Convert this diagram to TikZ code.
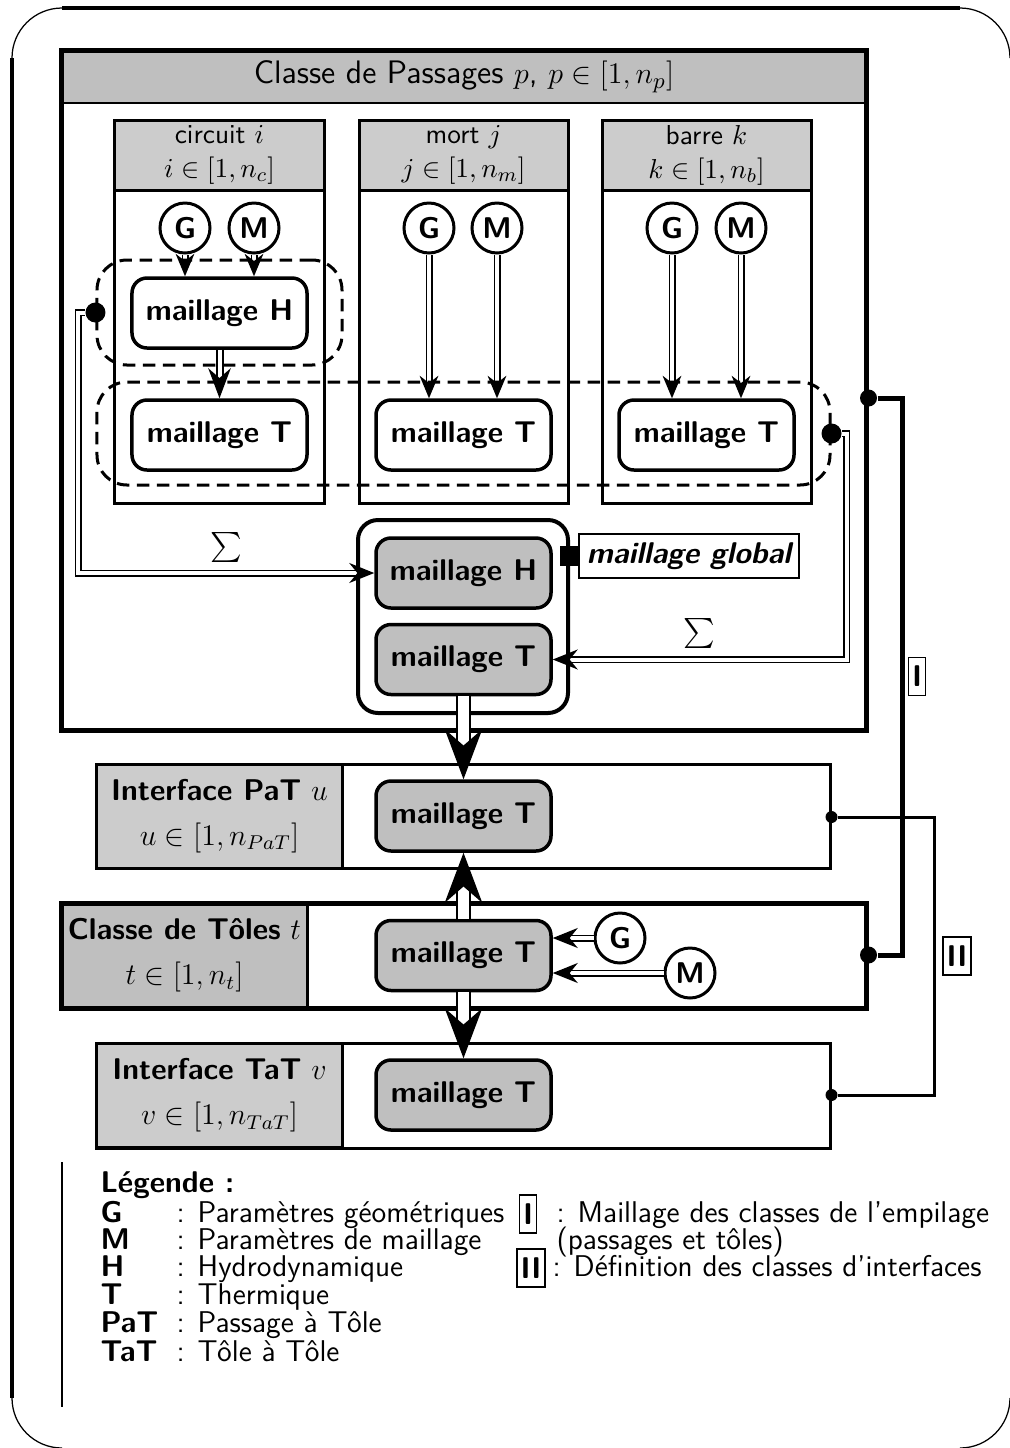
\documentclass[tikz,border=0pt,12pt]{standalone}
\usepackage{amsfonts,amssymb,amsmath}
\usepackage{tikz}
\usepackage{xcolor}
\usetikzlibrary{arrows.meta,shapes,positioning}
\renewcommand{\familydefault}{\sfdefault}

\tikzset{
  mesh/.style={draw,line width=1.4pt,rounded corners=6pt,minimum width=70pt,minimum height=28pt,inner sep=1pt,font=\bfseries},
  meshg/.style={mesh,fill=lightgray},
  param/.style={circle,draw,line width=1.2pt,minimum size=20pt,inner sep=0pt,font=\bfseries},
  column/.style={draw,line width=1.2pt,minimum width=83.6pt,minimum height=153.2pt},
  colhead/.style={draw,line width=1.2pt,fill=black!20,minimum width=83.6pt,minimum height=28pt,inner sep=0pt,align=center,font=\small},
  dashbox/.style={draw,dash pattern=on 5pt off 3pt,line width=1.2pt,rounded corners=12pt},
  blob/.style={circle,fill,inner sep=0pt,minimum size=#1},
  labbox/.style={draw,line width=1.2pt,fill=black!20,minimum width=98pt,minimum height=41.6pt,inner sep=0pt,align=center,font=\fontsize{12}{18}\selectfont},
  tag/.style={draw,line width=0.6pt,minimum height=15.2pt,inner sep=1.5pt,font=\bfseries},
  dblarrow/.style={double,double distance=1.4pt,line width=0.7pt,-{Stealth[length=9pt,width=7.5pt]}},
  sumarrow/.style={double,double distance=1.6pt,line width=0.6pt,-{Stealth[length=10pt,width=8pt]}},
  midarrow/.style={double,double distance=1.6pt,line width=0.8pt,-{Stealth[length=12pt,width=9pt]}},
  bigarrow/.style={double,double distance=4.4pt,line width=0.8pt,-{Stealth[length=20pt,width=15pt]}},
  legend/.style={anchor=base west,inner sep=0pt}
}

\begin{document}
\begin{tikzpicture}[x=0.4pt,y=-0.4pt]
\useasboundingbox (0,0) rectangle (1010,1448);
\draw[line width=1.3pt] (62,8) -- (960,8);
\draw[line width=1.3pt] (12,58) -- (12,1398);
\draw[line width=0.5pt] (12,58) arc[start angle=180,end angle=270,radius=50];
\draw[line width=0.5pt] (960,8) arc[start angle=270,end angle=360,radius=50];
\draw[line width=0.5pt] (12,1398) arc[start angle=180,end angle=90,radius=50];
\draw[line width=0.5pt] (1010,1398) arc[start angle=0,end angle=90,radius=50];
\draw[line width=0.8pt] (62,1162) -- (62,1407);

\node (passhead) [draw,line width=0.8pt,fill=lightgray,minimum width=321.6pt,minimum height=21.2pt,font=\fontsize{13}{15}\selectfont] at (464,76.5) {Classe de Passages $p$, $p\in[1,n_p]$};
\node (pass) [draw,line width=2pt,minimum width=321.6pt,minimum height=272pt] at (464,390) {};

\node (circ) [column] at (219.5,311.5) {};
\node (circhead) [colhead] at (219.5,155) {circuit $i$\\$i\in[1,n_c]$};
\node (mort) [column] at (463.5,311.5) {};
\node (morthead) [colhead] at (463.5,155) {mort $j$\\$j\in[1,n_m]$};
\node (barr) [column] at (706.5,311.5) {};
\node (barrhead) [colhead] at (706.5,155) {barre $k$\\$k\in[1,n_b]$};

\node (cG) [param] at (185,228) {G};
\node (cM) [param] at (254,228) {M};
\node (mG) [param] at (429,228) {G};
\node (mM) [param] at (497,228) {M};
\node (bG) [param] at (672,228) {G};
\node (bM) [param] at (741,228) {M};

\node (cH) [mesh] at (219.5,313) {maillage H};
\node (cT) [mesh] at (219.5,435) {maillage T};
\node (mT) [mesh] at (463.5,435) {maillage T};
\node (bT) [mesh] at (706.5,435) {maillage T};

\draw[dblarrow] (cG) -- (cG |- cH.north);
\draw[dblarrow] (cM) -- (cM |- cH.north);
\draw[midarrow] (cH) -- (cT);
\draw[dblarrow] (mG) -- (mG |- mT.north);
\draw[dblarrow] (mM) -- (mM |- mT.north);
\draw[dblarrow] (bG) -- (bG |- bT.north);
\draw[dblarrow] (bM) -- (bM |- bT.north);

\node (dashH) [dashbox,minimum width=98pt,minimum height=42pt] at (219.5,312.5) {};
\node (dashT) [dashbox,minimum width=293.2pt,minimum height=41.2pt] at (463.5,433.5) {};
\node (dotL) [blob=8pt] at (dashH.west) {};
\node (dotR) [blob=8pt] at (dashT.east) {};

\node (glob) [draw,line width=1.6pt,rounded corners=8pt,minimum width=84pt,minimum height=77.2pt] at (463,616.5) {};
\node (gH) [meshg] at (463.5,573) {maillage H};
\node (gT) [meshg] at (463.5,659.5) {maillage T};
\node (gsq) [fill,inner sep=0pt,minimum size=8pt] at (glob.east |- 0,556) {};
\node (gname) [draw,line width=0.8pt,minimum width=88pt,minimum height=17.6pt,inner sep=1pt,right=-1pt of gsq,font=\bfseries\itshape] {maillage global};

\draw[sumarrow] (dotL) -- ++(-17,0) |- node (sumL) [pos=0.75,above] {$\sum$} (gH);
\draw[sumarrow] (dotR) -- ++(15,0) |- node (sumR) [pos=0.75,above] {$\sum$} (gT);

\node (pat) [draw,line width=1.2pt,minimum width=293.2pt,minimum height=41.6pt] at (463.5,816) {};
\node (patlab) [labbox] at (219.5,816) {\textbf{Interface PaT} $u$\\$u\in[1,n_{PaT}]$};
\node (pT) [meshg] at (463.5,816) {maillage T};

\node (tollab) [labbox,fill=lightgray] at (184.5,955.5) {\textbf{Classe de Tôles} $t$\\$t\in[1,n_t]$};
\node (tol) [draw,line width=2pt,minimum width=321.6pt,minimum height=42pt] at (464,955.5) {};
\node (tT) [meshg] at (463.5,955.5) {maillage T};
\node (tG) [param] at (620,938) {G};
\node (tM) [param] at (690,973) {M};
\draw[sumarrow] (tG) -- (tG -| tT.east);
\draw[sumarrow] (tM) -- (tM -| tT.east);

\node (tat) [draw,line width=1.2pt,minimum width=293.2pt,minimum height=42pt] at (463.5,1095.5) {};
\node (tatlab) [labbox] at (219.5,1095.5) {\textbf{Interface TaT} $v$\\$v\in[1,n_{TaT}]$};
\node (vT) [meshg] at (463.5,1095) {maillage T};

\draw[bigarrow] (gT) -- (pT);
\draw[bigarrow] (tT) -- (pT);
\draw[bigarrow] (tT) -- (vT);

\node (dIa) [blob=6.8pt] at (pass.east |- 0,398) {};
\node (dIb) [blob=6.8pt] at (tol.east |- 0,955) {};
\draw[line width=2pt] (dIa) -- ++(34,0) |- node (tagI) [pos=0.25,right=2pt,tag] {I} (dIb);
\node (dIIa) [blob=4.8pt] at (pat.east |- 0,817) {};
\node (dIIb) [blob=4.8pt] at (tat.east |- 0,1095) {};
\draw[line width=1.2pt] (dIIa) -- ++(103,0) |- node (tagII) [pos=0.25,right=3pt,tag] {II} (dIIb);

\node (leg) [legend,font=\bfseries] at (100,1192) {Légende :};
\node (kG) [legend,font=\bfseries] at (100,1222) {G};
\node (lG) [legend] at (176,1222) {: Paramètres géométriques};
\node (kM) [legend,font=\bfseries] at (100,1249) {M};
\node (lM) [legend] at (176,1249) {: Paramètres de maillage};
\node (kH) [legend,font=\bfseries] at (100,1276) {H};
\node (lH) [legend] at (176,1276) {: Hydrodynamique};
\node (kT) [legend,font=\bfseries] at (100,1304) {T};
\node (lT) [legend] at (176,1304) {: Thermique};
\node (kP) [legend,font=\bfseries] at (100,1332) {PaT};
\node (lP) [legend] at (176,1332) {: Passage à Tôle};
\node (kTT) [legend,font=\bfseries] at (100,1361) {TaT};
\node (lTT) [legend] at (176,1361) {: Tôle à Tôle};
\node (kI) [tag] at (528,1214) {I};
\node (lI) [legend] at (556,1222) {: Maillage des classes de l'empilage};
\node (lI2) [legend] at (556,1249) {(passages et tôles)};
\node (kII) [tag] at (531,1268) {II};
\node (lII) [legend] at (552,1276) {: Définition des classes d'interfaces};
\end{tikzpicture}
\end{document}
